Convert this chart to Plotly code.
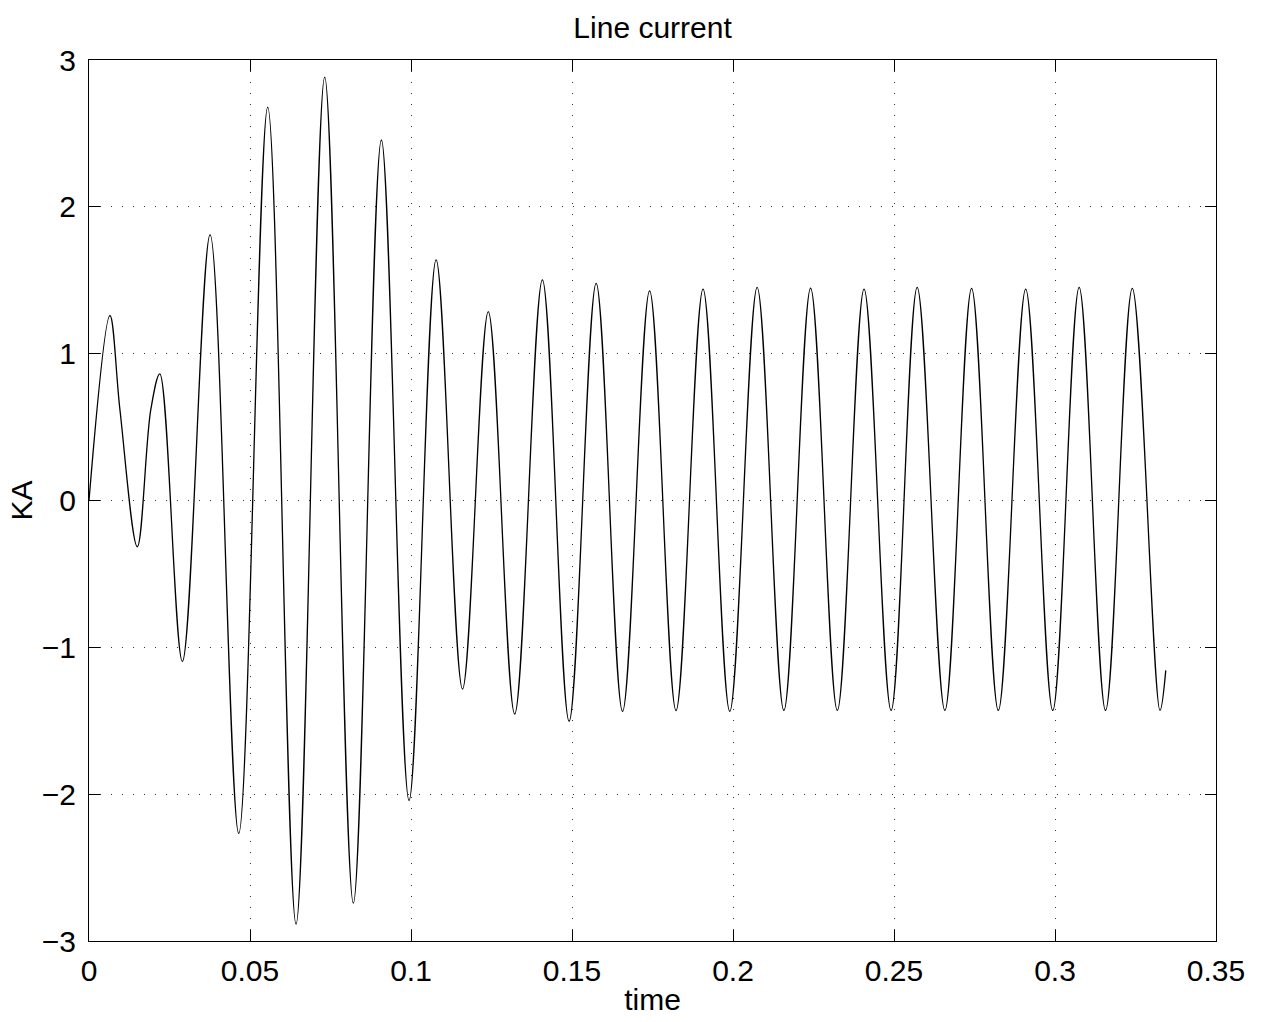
import plotly.graph_objects as go

# Extrema / key points of the line current waveform
time = [0.0, 0.0065, 0.0096, 0.0150, 0.0192, 0.0220, 0.0290, 0.0376, 0.0465,
        0.0555, 0.0643, 0.0732, 0.0821, 0.0908, 0.0994, 0.1078, 0.1160, 0.1240,
        0.1322, 0.1408, 0.1491, 0.1575, 0.1657, 0.1741, 0.1823, 0.1907, 0.1990,
        0.2075, 0.2158, 0.2241, 0.2324, 0.2407, 0.2491, 0.2572, 0.2658, 0.2741,
        0.2824, 0.2909, 0.2993, 0.3075, 0.3157, 0.3240, 0.3326, 0.3344]
current_ka = [0.0, 1.26, 0.62, -0.315, 0.62, 0.863, -1.096, 1.809, -2.267,
              2.679, -2.885, 2.883, -2.742, 2.455, -2.043, 1.639, -1.284, 1.286,
              -1.454, 1.503, -1.503, 1.479, -1.436, 1.427, -1.431, 1.440, -1.436,
              1.452, -1.43, 1.447, -1.43, 1.440, -1.43, 1.452, -1.43, 1.445,
              -1.43, 1.440, -1.43, 1.452, -1.43, 1.445, -1.43, -1.157]

x_ticks = [0, 0.05, 0.1, 0.15, 0.2, 0.25, 0.3, 0.35]
x_ticktext = ["0", "0.05", "0.1", "0.15", "0.2", "0.25", "0.3", "0.35"]
y_ticks = [-3, -2, -1, 0, 1, 2, 3]
y_ticktext = ["\u22123", "\u22122", "\u22121", "0", "1", "2", "3"]

FONT = "Liberation Sans, Arial, Helvetica, sans-serif"
FS = 30

fig = go.Figure()
fig.add_trace(go.Scatter(
    x=time, y=current_ka, mode="lines",
    line=dict(color="black", width=1.3, shape="spline", smoothing=1.0),
    showlegend=False, hoverinfo="skip"))

axis_common = dict(
    showline=True, linecolor="black", linewidth=1,
    mirror="ticks", ticks="inside", ticklen=11, tickcolor="black", tickwidth=1,
    showgrid=True, gridcolor="#333333", gridwidth=1, griddash="1px,10px",
    zeroline=False,
    tickfont=dict(family=FONT, size=FS, color="black"),
)

fig.update_xaxes(range=[0, 0.35], tickvals=x_ticks, ticktext=x_ticktext,
                 title=dict(text="time", font=dict(family=FONT, size=FS, color="black"),
                            standoff=2),
                 ticklabelstandoff=3, **axis_common)
fig.update_yaxes(range=[-3, 3], tickvals=y_ticks, ticktext=y_ticktext,
                 title=dict(text="KA", font=dict(family=FONT, size=FS, color="black"),
                            standoff=0),
                 ticklabelstandoff=6, **axis_common)

fig.update_layout(
    width=1263, height=1022,
    margin=dict(l=89, r=47, t=60, b=79, pad=0),
    paper_bgcolor="white", plot_bgcolor="white",
    title=dict(text="Line current", x=0.5167, xanchor="center",
               y=1 - 27 / 1022, yanchor="middle", yref="container",
               font=dict(family=FONT, size=FS, color="black")),
)

fig.write_html("out.html")
